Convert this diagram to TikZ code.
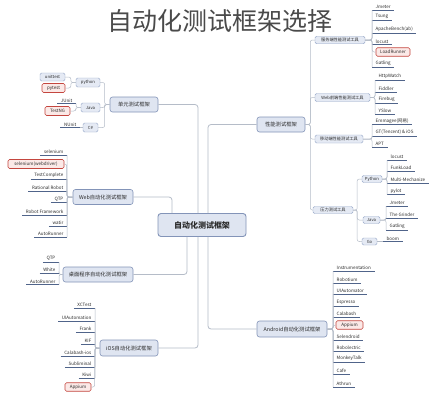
\documentclass[tikz,border=0pt]{standalone}
\usepackage{fontspec}
\setmainfont{Noto Sans CJK SC}
\definecolor{conncol}{HTML}{B5BCC8}
\definecolor{ulcol}{HTML}{50648A}
\definecolor{hubdraw}{HTML}{8394B8}
\definecolor{hubfill}{HTML}{DFE5F1}
\definecolor{subdraw}{HTML}{97A8C8}
\definecolor{subfill}{HTML}{E5EAF4}
\definecolor{redcol}{HTML}{C4463F}
\definecolor{redfill}{HTML}{FBE9E7}
\definecolor{txt}{HTML}{2B2B2B}
\definecolor{titlecol}{HTML}{4A4A4A}
\newcommand{\LeafL}[4]{\node[leaf,anchor=south east] (#1) at (#2,#3) {#4}; \draw[ul] (#1.south west) -- (#1.south east);}
\newcommand{\LeafR}[4]{\node[leaf,anchor=south west] (#1) at (#2,#3) {#4}; \draw[ul] (#1.south west) -- (#1.south east);}
\tikzset{
 conn/.style={draw=conncol, line width=0.5pt, rounded corners=2pt},
 mainconn/.style={draw=conncol, line width=0.8pt, rounded corners=3pt},
 ul/.style={draw=ulcol, line width=0.55pt},
 hub/.style={draw=hubdraw, fill=hubfill, rounded corners=3pt, line width=0.9pt, font=\fontsize{8}{9}\selectfont\bfseries, text=txt, minimum width=88pt, minimum height=23pt, inner sep=0pt},
 topic/.style={draw=hubdraw, fill=hubfill, rounded corners=2.5pt, line width=0.6pt, font=\fontsize{5.3}{6}\selectfont, text=txt, minimum height=15pt, inner sep=0pt},
 sub/.style={draw=subdraw, fill=subfill, rounded corners=1.5pt, line width=0.45pt, font=\fontsize{4.2}{5}\selectfont, text=txt, minimum height=8pt, inner sep=0pt},
 hot/.style={draw=redcol, fill=redfill, rounded corners=1.5pt, line width=0.6pt, font=\fontsize{4.5}{5}\selectfont, text=txt, minimum height=8.5pt, inner sep=0pt},
 leaf/.style={font=\fontsize{4.5}{5}\selectfont, text=txt, inner xsep=3.5pt, inner ysep=1pt},
}
\begin{document}
\begin{tikzpicture}[x=1pt,y=-1pt]
\fill[white] (0,0) rectangle (432,400);
\path[use as bounding box] (0,0) rectangle (432,400);
% title
\node[font=\fontsize{25}{28}\selectfont, text=titlecol] (title) at (220,21) {自动化测试框架选择};
% hub
\node[hub] (H) at (202,225) {自动化测试框架};
% level 1
\node[topic, minimum width=48pt] (U) at (134,104.5) {单元测试框架};
\node[topic, minimum width=60pt] (W) at (103,197) {Web自动化测试框架};
\node[topic, minimum width=70pt] (D) at (98,274.5) {桌面程序自动化测试框架};
\node[topic, minimum width=58pt, minimum height=16pt] (I) at (129,348) {iOS自动化测试框架};
\node[topic, minimum width=48pt] (P) at (281,124.5) {性能测试框架};
\node[topic, minimum width=70pt, minimum height=16pt] (A) at (292,329) {Android自动化测试框架};
% main connectors
\draw[mainconn] (U.east) -| ([xshift=-4pt]H.north);
\draw[mainconn] (W.east) -| ([xshift=-30pt]H.north);
\draw[mainconn] (P.west) -| ([xshift=6pt]H.north);
\draw[mainconn] (D.east) -| ([xshift=-15pt]H.south);
\draw[mainconn] (I.east) -| ([xshift=-4pt]H.south);
\draw[mainconn] (A.west) -| ([xshift=6pt]H.south);
% ---- unit test
\node[sub, minimum width=24pt, minimum height=9pt] (py) at (88,82.5) {python};
\node[sub, minimum width=19pt, minimum height=9pt] (ja) at (90.5,107.5) {Java};
\node[sub, minimum width=15pt, minimum height=9pt] (cs) at (90.5,127.5) {C\#};
\foreach \c in {py,ja,cs} \draw[conn] (U.west) -- ++(-5,0) |- (\c.east);
\node[sub, minimum width=25pt] (ut) at (52.5,77) {unittest};
\node[hot, minimum width=23pt, minimum height=9pt] (pt) at (53.5,88) {pytest};
\foreach \c in {ut,pt} \draw[conn] (py.west) -- ++(-5,0) |- (\c.east);
\LeafL{junit}{76}{103.5}{JUnit}
\node[hot, minimum width=25pt, minimum height=9pt] (tng) at (57.5,111) {TestNG};
\draw[conn] (ja.west) -| (junit.south east);
\draw[conn] (ja.west) -- ++(-5,0) |- (tng.east);
\LeafL{nunit}{80}{127.5}{NUnit}
\draw[conn] (cs.west) -- (nunit.south east);
% ---- web
\LeafL{w1}{67}{155}{selenium}
\node[hot, minimum width=56pt, minimum height=9pt] (w2) at (36,164) {selenium(webdriver)};
\LeafL{w3}{67}{179}{TestComplete}
\LeafL{w4}{67}{191}{Rational Robot}
\LeafL{w5}{67}{202.5}{QTP}
\LeafL{w6}{67}{215}{Robot Framework}
\LeafL{w7}{67}{226}{watir}
\LeafL{w8}{67}{237}{AutoRunner}
\foreach \c in {w1,w3,w4,w5,w6,w7,w8} \draw[conn] (W.west) -| (\c.south east);
\draw[conn] (W.west) -- ++(-6,0) |- (w2.east);
% ---- desktop
\LeafL{d1}{59}{262}{QTP}
\LeafL{d2}{59}{273}{White}
\LeafL{d3}{59}{284.5}{AutoRunner}
\foreach \c in {d1,d2,d3} \draw[conn] (D.west) -| (\c.south east);
% ---- iOS
\LeafL{i1}{95}{308}{XCTest}
\LeafL{i2}{95}{321}{UIAutomation}
\LeafL{i3}{95}{332}{Frank}
\LeafL{i4}{95}{344}{KIF}
\LeafL{i5}{95}{356}{Calabash-ios}
\LeafL{i6}{95}{367}{Subliminal}
\LeafL{i7}{95}{378}{Kiwi}
\node[hot, minimum width=26pt] (i8) at (78,387) {Appium};
\foreach \c in {i1,i2,i3,i4,i5,i6,i7} \draw[conn] (I.west) -| (\c.south east);
\draw[conn] (I.west) -- ++(-5,0) |- (i8.east);
% ---- performance
\node[sub, minimum width=50pt, minimum height=7.5pt] (SA) at (340,40) {服务端性能测试工具};
\node[sub, minimum width=55pt] (SB) at (342.5,97.5) {Web前端性能测试工具};
\node[sub, minimum width=48pt] (SC) at (339,139) {移动端性能测试工具};
\node[sub, minimum width=40pt, minimum height=7pt] (SD) at (333,210) {压力测试工具};
\foreach \c in {SA,SB,SC,SD} \draw[conn] (P.east) -- ++(5,0) |- (\c.west);
\LeafR{a1}{372}{10}{Jmeter}
\LeafR{a2}{372}{20}{Tsung}
\LeafR{a3}{372}{33}{ApacheBench(ab)}
\LeafR{a4}{372}{44.5}{locust}
\node[hot, minimum width=34pt] (a5) at (393,52) {LoadRunner};
\LeafR{a6}{372}{67}{Gatling}
\foreach \c in {a1,a2,a3,a4,a6} \draw[conn] (SA.east) -| (\c.south west);
\draw[conn] (SA.east) -- ++(7,0) |- (a5.west);
\LeafR{b1}{375}{80}{HttpWatch}
\LeafR{b2}{375}{92}{Fiddler}
\LeafR{b3}{375}{103}{Firebug}
\LeafR{b4}{375}{114}{YSlow}
\foreach \c in {b1,b2,b3,b4} \draw[conn] (SB.east) -| (\c.south west);
\LeafR{c1}{372}{124.5}{Emmagee(网易)}
\LeafR{c2}{372}{136}{GT(Tencent) \& iOS}
\LeafR{c3}{372}{147}{APT}
\foreach \c in {c1,c2,c3} \draw[conn] (SC.east) -| (\c.south west);
\node[sub, minimum width=20pt, minimum height=7pt] (D1) at (372,179) {Python};
\node[sub, minimum width=17pt, minimum height=7pt] (D2) at (371.5,220) {Java};
\node[sub, minimum width=15pt, minimum height=7pt] (D3) at (369.5,241.5) {Go};
\foreach \c in {D1,D2,D3} \draw[conn] (SD.east) -- ++(4,0) |- (\c.west);
\LeafR{e1}{387}{160}{locust}
\LeafR{e2}{387}{171}{FunkLoad}
\LeafR{e3}{387}{183}{Multi-Mechanize}
\LeafR{e4}{387}{194.5}{pylot}
\foreach \c in {e1,e2,e3,e4} \draw[conn] (D1.east) -| (\c.south west);
\LeafR{f1}{386}{206}{Jmeter}
\LeafR{f2}{386}{218}{The Grinder}
\LeafR{f3}{386}{230}{Gatling}
\foreach \c in {f1,f2,f3} \draw[conn] (D2.east) -| (\c.south west);
\LeafR{g1}{383}{241.5}{boom}
\draw[conn] (D3.east) -- (g1.south west);
% ---- android
\LeafR{n1}{333}{271}{Instrumentation}
\LeafR{n2}{333}{283}{Robotium}
\LeafR{n3}{333}{294}{UIAutomator}
\LeafR{n4}{333}{306}{Espresso}
\LeafR{n5}{333}{317}{Calabash}
\node[hot, minimum width=27pt] (n6) at (349.5,325) {Appium};
\LeafR{n7}{333}{340}{Selendroid}
\LeafR{n8}{333}{351}{Robolectric}
\LeafR{n9}{333}{362}{MonkeyTalk}
\LeafR{n10}{333}{374}{Cafe}
\LeafR{n11}{333}{387}{Athrun}
\foreach \c in {n1,n2,n3,n4,n5,n7,n8,n9,n10,n11} \draw[conn] (A.east) -| (\c.south west);
\draw[conn] (A.east) -- ++(6,0) |- (n6.west);
\end{tikzpicture}
\end{document}
